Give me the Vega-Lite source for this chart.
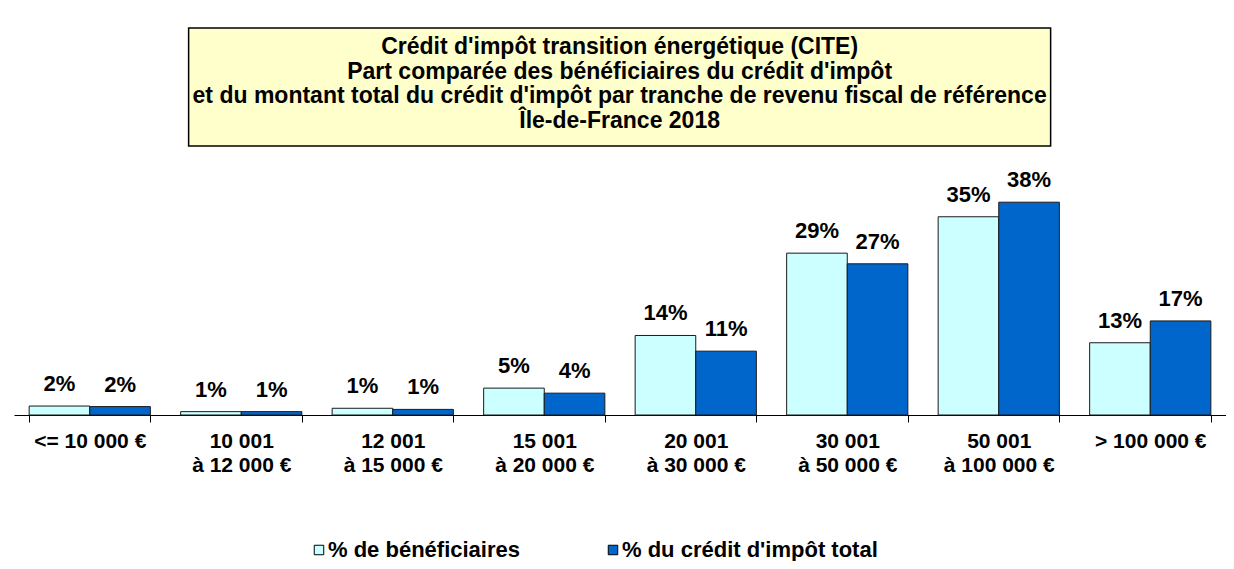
{
  "$schema": "https://vega.github.io/schema/vega-lite/v6.json",
  "padding": {"left": 14, "top": 27, "right": 0, "bottom": 0},
  "autosize": {"type": "pad"},
  "background": "white",
  "config": {
    "font": "Liberation Sans",
    "view": {"stroke": null}
  },
  "center": true,
  "spacing": 16,
  "vconcat": [
    {
      "width": 862,
      "height": 118,
      "view": {"fill": "#FFFFCC", "stroke": "#000000", "strokeWidth": 1.5},
      "data": {"values": [{"t": "Crédit d'impôt transition énergétique (CITE)\nPart comparée des bénéficiaires du crédit d'impôt\net du montant total du crédit d'impôt par tranche de revenu fiscal de référence\nÎle-de-France 2018"}]},
      "mark": {"type": "text", "lineBreak": "\n", "lineHeight": 24.5, "font": "Liberation Sans", "fontSize": 23, "fontWeight": "bold", "baseline": "middle", "align": "center", "dy": -40, "color": "#000000"},
      "encoding": {"text": {"field": "t", "type": "nominal"}}
    },
    {
      "width": 1212,
      "height": 252,
      "data": {"values": [
        {"tranche": "<= 10 000 €", "serie": "% de bénéficiaires", "v": 0.016},
        {"tranche": "<= 10 000 €", "serie": "% du crédit d'impôt total", "v": 0.015},
        {"tranche": "10 001|à 12 000 €", "serie": "% de bénéficiaires", "v": 0.006},
        {"tranche": "10 001|à 12 000 €", "serie": "% du crédit d'impôt total", "v": 0.006},
        {"tranche": "12 001|à 15 000 €", "serie": "% de bénéficiaires", "v": 0.012},
        {"tranche": "12 001|à 15 000 €", "serie": "% du crédit d'impôt total", "v": 0.010},
        {"tranche": "15 001|à 20 000 €", "serie": "% de bénéficiaires", "v": 0.048},
        {"tranche": "15 001|à 20 000 €", "serie": "% du crédit d'impôt total", "v": 0.039},
        {"tranche": "20 001|à 30 000 €", "serie": "% de bénéficiaires", "v": 0.142},
        {"tranche": "20 001|à 30 000 €", "serie": "% du crédit d'impôt total", "v": 0.114},
        {"tranche": "30 001|à 50 000 €", "serie": "% de bénéficiaires", "v": 0.289},
        {"tranche": "30 001|à 50 000 €", "serie": "% du crédit d'impôt total", "v": 0.270},
        {"tranche": "50 001|à 100 000 €", "serie": "% de bénéficiaires", "v": 0.354},
        {"tranche": "50 001|à 100 000 €", "serie": "% du crédit d'impôt total", "v": 0.380},
        {"tranche": "> 100 000 €", "serie": "% de bénéficiaires", "v": 0.129},
        {"tranche": "> 100 000 €", "serie": "% du crédit d'impôt total", "v": 0.168}
      ]},
      "encoding": {
        "x": {
          "field": "tranche", "type": "nominal", "sort": null,
          "scale": {"paddingInner": 0.2, "paddingOuter": 0.1},
          "axis": {
            "title": null, "labelAngle": 0, "labelLimit": 0,
            "labelExpr": "split(datum.label, '|')",
            "labelFont": "Liberation Sans", "labelFontSize": 21, "labelFontWeight": "bold",
            "labelColor": "#000000", "labelLineHeight": 24, "labelBaseline": "top", "labelPadding": 8,
            "tickBand": "extent", "tickSize": 7, "tickColor": "#000000", "tickWidth": 1,
            "domainColor": "#000000", "domainWidth": 1, "grid": false
          }
        },
        "xOffset": {"field": "serie", "type": "nominal", "sort": ["% de bénéficiaires", "% du crédit d'impôt total"]},
        "y": {"field": "v", "type": "quantitative", "scale": {"domain": [0, 0.45]}, "axis": null}
      },
      "layer": [
        {
          "mark": {"type": "bar", "stroke": "#1a1a1a", "strokeWidth": 1},
          "encoding": {
            "color": {
              "field": "serie", "type": "nominal",
              "sort": ["% de bénéficiaires", "% du crédit d'impôt total"],
              "scale": {"domain": ["% de bénéficiaires", "% du crédit d'impôt total"], "range": ["#CCFFFF", "#0066CC"]},
              "legend": {
                "title": null, "orient": "none", "direction": "horizontal", "legendX": 294, "legendY": 511,
                "padding": 0, "symbolType": "square", "symbolSize": 90, "symbolStrokeColor": "#000000", "symbolStrokeWidth": 1,
                "labelFont": "Liberation Sans", "labelFontSize": 22, "labelFontWeight": "bold", "labelColor": "#000000",
                "labelOffset": -2, "labelLimit": 0, "columnPadding": 82
              }
            }
          }
        },
        {
          "mark": {"type": "text", "baseline": "alphabetic", "dy": -15, "font": "Liberation Sans", "fontSize": 22, "fontWeight": "bold", "color": "#000000"},
          "encoding": {"text": {"field": "v", "type": "quantitative", "format": ".0%"}}
        }
      ]
    }
  ]
}
